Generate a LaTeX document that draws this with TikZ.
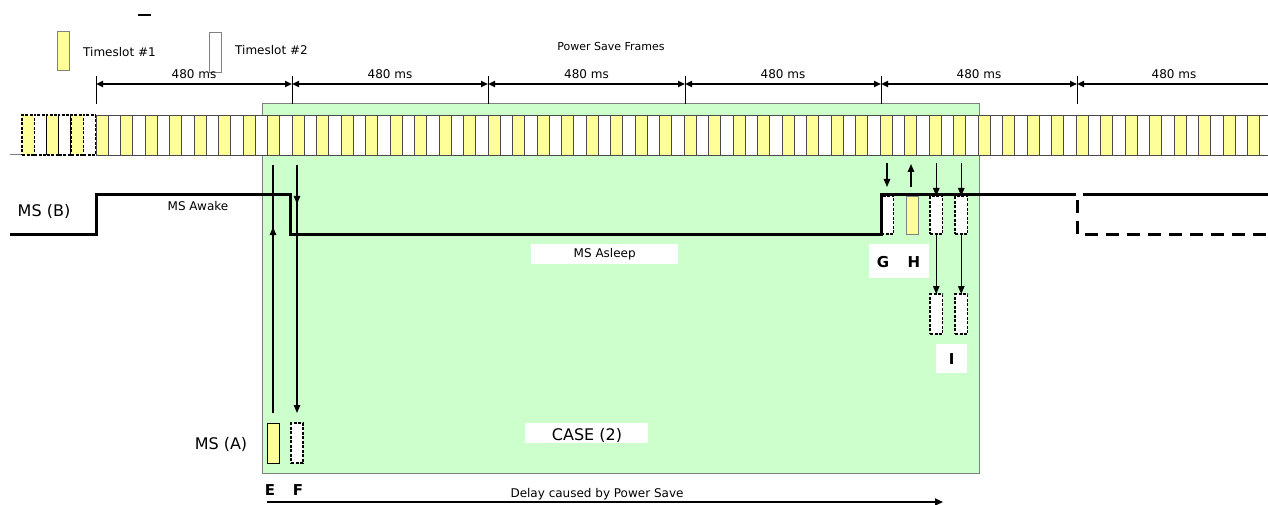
\documentclass[tikz,border=0pt]{standalone}
\usepackage{fontspec}
\setmainfont{DejaVu Sans}
\usetikzlibrary{arrows.meta,calc}
\definecolor{slotyellow}{HTML}{FFFF99}
\definecolor{casegreen}{HTML}{CCFFCC}
\definecolor{slotedge}{HTML}{4A4A4A}
\definecolor{boxedge}{HTML}{808080}
\begin{document}
\begin{tikzpicture}[x=1pt,y=-1pt,
  lbl/.style={inner sep=0pt, font=\fontsize{12}{14}\selectfont},
  biglbl/.style={inner sep=0pt, font=\fontsize{16}{18}\selectfont},
  letter/.style={inner sep=0pt, font=\fontsize{15}{17}\selectfont\bfseries},
  slotbox/.style={draw=slotedge, line width=0.9pt, inner sep=0pt, outer sep=0pt, minimum width=12.25pt, minimum height=40pt, anchor=north west},
  yslot/.style={slotbox, fill=slotyellow},
  wslot/.style={slotbox, fill=white},
  dashslot/.style={draw=black, dash pattern=on 3pt off 1.5pt, line width=1.3pt, inner sep=0pt, outer sep=0pt, minimum width=12.25pt, minimum height=40pt, anchor=north west},
  msbox/.style={inner sep=0pt, outer sep=0pt, minimum width=12.5pt, minimum height=38pt, anchor=north west},
  dashbox/.style={msbox, fill=white, draw=black, dash pattern=on 3pt off 1.5pt, line width=1.3pt},
  whitebox/.style={fill=white, inner sep=0pt, anchor=north west},
  tip/.style={-{Triangle[length=8pt,width=6.5pt]}, line width=1.3pt},
  period/.style={{Triangle[length=7pt,width=6pt]}-{Triangle[length=7pt,width=6pt]}, line width=1.8pt},
  msline/.style={line width=3pt},
]
\useasboundingbox (0,0) rectangle (1268,505);
\fill[white] (0,0) rectangle (1268,505);

% green case area
\node[draw=boxedge, fill=casegreen, line width=1pt, inner sep=0pt, outer sep=0pt, minimum width=717pt, minimum height=369pt, anchor=north west] (case) at (262,104) {};

% legend
\node[yslot, minimum width=12pt, minimum height=39pt, draw=boxedge] (leg1) at (57,31) {};
\node[lbl, anchor=west] (leg1t) at (83,52) {Timeslot \#1};
\node[wslot, minimum width=12pt, minimum height=40pt, draw=boxedge] (leg2) at (209,32) {};
\node[lbl, anchor=west] (leg2t) at (235,50) {Timeslot \#2};
\draw[line width=1.5pt] (138,15) coordinate (dashA) -- (151,15) coordinate (dashB);
\node[inner sep=0pt, font=\fontsize{11}{13}\selectfont] (psf) at (611,46) {Power Save Frames};

% time slot strip
\draw[boxedge, line width=1pt] (10,155) -- (22,155);
\foreach \i in {0,1,2} {
  \node[dashslot, fill=slotyellow] (dy\i) at ({22+24.5*\i},115) {};
  \node[dashslot, fill=white] (dw\i) at ({34.25+24.5*\i},115) {};
}
\begin{scope}
\clip (0,100) rectangle (1268,160);
\foreach \i in {0,...,47} {
  \node[yslot] (sy\i) at ({96+24.5*\i},115) {};
  \node[wslot] (sw\i) at ({108.25+24.5*\i},115) {};
}
\end{scope}

% frame markers
\foreach \n/\x in {a/96,b/292,c/488,d/685,e/881,f/1077} {
  \coordinate (m\n) at (\x,84);
  \draw[line width=1pt] (\x,76) -- (\x,104);
}
\coordinate (mg) at (1268,84);
\foreach \p/\q in {a/b,b/c,c/d,d/e,e/f} {
  \draw[period] (m\p) -- (m\q);
  \node[lbl] at ($(m\p)!0.5!(m\q)+(0,-10)$) {480 ms};
}
\draw[line width=1.8pt, {Triangle[length=7pt,width=6pt]}-] (mf) -- (mg);
\node[lbl] (last480) at (1174,74) {480 ms};

% MS (B)
\node[biglbl] (msb) at (44,211) {MS (B)};
\node[lbl] (awake) at (198,206) {MS Awake};
\node[whitebox, minimum width=147pt, minimum height=20pt] (asleepbox) at (531,244) {};
\node[lbl] (asleep) at (asleepbox.center) {MS Asleep};

% G H and I slots
\node[dashbox] (G) at (881,196) {};
\node[msbox, fill=slotyellow, draw=boxedge, line width=0.9pt, minimum width=12pt] (H) at (906,196) {};
\node[dashbox] (I1) at (930,196) {};
\node[dashbox] (I2) at (955,196) {};
\node[dashbox, minimum height=40pt] (J1) at (930,294) {};
\node[dashbox, minimum height=40pt] (J2) at (955,294) {};

\draw[msline] (10,234) -- (96,234) -- (96,195) -- (290,195) -- (290,234) -- (881,234) -- (881,195) -- (1076,195);
\draw[msline] (1083,195) -- (1268,195);
\draw[msline, dash pattern=on 13pt off 8pt] (1077,200) -- (1077,234) -- (1268,234);

\coordinate (gtop) at (887,163);
\coordinate (gbot) at (887,187);
\coordinate (htop) at (911,164);
\coordinate (hbot) at (911,187);
\coordinate (i1top) at (I1.north |- 0,163);
\coordinate (i2top) at (I2.north |- 0,163);
\draw[tip] (gtop) -- (gbot);
\draw[tip] (hbot) -- (htop);
\draw[tip] (i1top) -- (I1.north);
\draw[tip] (i2top) -- (I2.north);
\draw[tip] (I1.south) -- (J1.north);
\draw[tip] (I2.south) -- (J2.north);

\node[whitebox, minimum width=60pt, minimum height=34pt] (ghbox) at (869,244) {};
\node[letter] (Gl) at (883,262) {G};
\node[letter] (Hl) at (914,262) {H};
\node[whitebox, minimum width=31pt, minimum height=29pt] (ibox) at (936,344) {};
\node[letter] (Il) at (ibox.center) {I};

% MS (A)
\node[biglbl] (msa) at (221,444) {MS (A)};
\node[msbox, fill=slotyellow, draw=black, line width=0.9pt, minimum width=12pt, minimum height=40pt] (E) at (267,423) {};
\node[dashbox, minimum width=12pt, minimum height=40pt] (F) at (291,423) {};
\coordinate (etop) at (E.north |- 0,165);
\coordinate (ftop) at (F.north |- 0,165);
\coordinate (ebot) at ($(E.north)+(0,-10)$);
\coordinate (fbot) at ($(F.north)+(0,-10)$);
\draw[line width=1.3pt] (ebot) -- (etop);
\draw[tip] (ebot) -- ($(ebot)!0.75!(etop)$);
\draw[tip] (ftop) -- (fbot);
\draw[tip] (ftop) -- ($(ftop)+(0,39)$);

\node[whitebox, minimum width=123pt, minimum height=20pt] (casebox) at (525,423) {};
\node[biglbl] (casetxt) at (587,435) {CASE (2)};

\node[letter] (El) at (270,490) {E};
\node[letter] (Fl) at (298,490) {F};
\coordinate (dstart) at (267,502);
\coordinate (dend) at (943,502);
\draw[line width=2.2pt, -{Triangle[length=8pt,width=7pt]}] (dstart) -- (dend);
\node[lbl] (delay) at (597,494) {Delay caused by Power Save};
\end{tikzpicture}
\end{document}
